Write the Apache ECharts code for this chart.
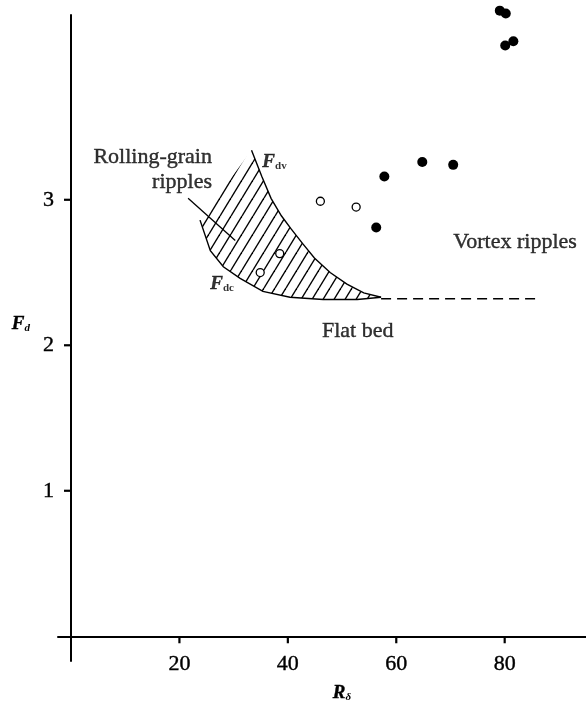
<!DOCTYPE html>
<html>
<head>
<meta charset="utf-8">
<script src="https://cdn.jsdelivr.net/npm/echarts@6/dist/echarts.min.js"></script>
<style>
  html, body { margin: 0; padding: 0; background: #fff; }
  #chart { width: 586px; height: 707px; }
</style>
</head>
<body>
<div id="chart"></div>
<script>
// Measured points: R_delta (x) against F_d (y)
const vortexPoints = [
  [79.1, 4.30], [80.2, 4.28], [80.1, 4.06], [81.6, 4.09],
  [64.8, 3.26], [70.5, 3.24], [57.8, 3.16], [56.3, 2.81]
];
const rollingPoints = [
  [46.0, 2.99], [52.6, 2.95], [38.5, 2.63], [34.9, 2.50]
];

// Boundaries of the rolling-grain ripple band
const fdvCurve = [
  [33.3, 3.34], [35.2, 3.16], [36.9, 3.01], [38.8, 2.89], [40.6, 2.80],
  [42.7, 2.70], [44.9, 2.60], [47.8, 2.50], [50.9, 2.42], [54.0, 2.36],
  [57.2, 2.33]
];
const fdcCurve = [
  [23.8, 2.86], [25.7, 2.65], [28.1, 2.54], [31.2, 2.46], [35.4, 2.37],
  [40.4, 2.33], [46.5, 2.315], [52.8, 2.315], [57.2, 2.33]
];

// Flat-bed threshold beyond the band, and the pointer to the band label
const flatBedLine = [[57.2, 2.32], [85.7, 2.32]];
const pointerLine = [[21.6, 3.01], [30.3, 2.72]];

const xTicks = [20, 40, 60, 80];
const yTicks = [1, 2, 3];

const ink = '#000';
const serif = '"Liberation Serif", "DejaVu Serif", serif';

// Diagonal hatching tile used to fill the band
function hatchTile(w, h, lw) {
  const c = document.createElement('canvas');
  c.width = w; c.height = h;
  const g = c.getContext('2d');
  g.strokeStyle = ink;
  g.lineWidth = lw;
  for (let k = -1; k <= 1; k++) {
    g.beginPath();
    g.moveTo(k * w, h);
    g.lineTo(k * w + w, 0);
    g.stroke();
  }
  return c;
}
const hatch = hatchTile(11, 18, 1.4);

// slight stroke in the text colour gives the print a heavier look
const heavy = { textBorderColor: ink, textBorderWidth: 0.4 };

const subRich = {
  F: Object.assign({ fontFamily: serif, fontStyle: 'italic', fontWeight: 'bold', fontSize: 19, color: ink, lineHeight: 22, verticalAlign: 'bottom' }, heavy),
  s: { fontFamily: serif, fontStyle: 'italic', fontWeight: 'bold', fontSize: 11, color: ink, lineHeight: 8, verticalAlign: 'bottom' },
  u: { fontFamily: serif, fontWeight: 'bold', fontSize: 11, color: ink, lineHeight: 8, verticalAlign: 'bottom' },
  t: Object.assign({ fontFamily: serif, fontSize: 22, color: ink, lineHeight: 25 }, heavy)
};

const chart = echarts.init(document.getElementById('chart'), null, { renderer: 'canvas' });

chart.setOption({
  animation: false,
  backgroundColor: '#fff',
  grid: { left: 58, right: 0, top: 15, bottom: 46, containLabel: false, outerBoundsMode: 'none' },
  xAxis: {
    type: 'value',
    min: -2.4,
    max: 95,
    name: '{F|R}{s|δ}',
    nameLocation: 'middle',
    nameGap: 20,
    nameTextStyle: { rich: subRich, padding: [0, 0, 0, 40] },
    axisLine: { onZero: true, lineStyle: { color: ink, width: 2 } },
    axisTick: { show: false },
    axisLabel: Object.assign({ customValues: xTicks, margin: 14, verticalAlign: 'bottom', lineHeight: 22, fontFamily: serif, fontSize: 22, color: ink }, heavy),
    splitLine: { show: false }
  },
  yAxis: {
    type: 'value',
    min: -0.17,
    max: 4.27,
    name: '{F|F}{s|d}',
    nameLocation: 'middle',
    nameRotate: 0,
    nameGap: 28,
    nameTextStyle: { rich: subRich, padding: [0, 0, 30, 0] },
    axisLine: { onZero: true, lineStyle: { color: ink, width: 2 } },
    axisTick: { show: false },
    axisLabel: Object.assign({ customValues: yTicks, margin: 15, align: 'left', fontFamily: serif, fontSize: 22, color: ink }, heavy),
    splitLine: { show: false }
  },
  series: [
    {
      name: 'band',
      type: 'custom',
      silent: true,
      data: [[0, 0]],
      encode: { x: 0, y: 1 },
      renderItem: function (params, api) {
        const up = fdvCurve.map(p => api.coord(p));
        const lo = fdcCurve.map(p => api.coord(p));
        const poly = up.concat(lo.slice().reverse());
        return {
          type: 'group',
          children: [
            { type: 'polygon', shape: { points: poly }, style: { fill: { image: hatch, repeat: 'repeat' }, stroke: null } },
            { type: 'polyline', shape: { points: up }, style: { stroke: ink, lineWidth: 1.4, fill: null } },
            { type: 'polyline', shape: { points: lo }, style: { stroke: ink, lineWidth: 1.4, fill: null } }
          ]
        };
      }
    },
    {
      name: 'flat bed',
      type: 'line',
      data: flatBedLine,
      symbol: 'none',
      silent: true,
      lineStyle: { color: ink, width: 1.6, type: [10, 6] }
    },
    {
      name: 'pointer',
      type: 'line',
      data: pointerLine,
      symbol: 'none',
      silent: true,
      lineStyle: { color: ink, width: 1.3 }
    },
    {
      name: 'vortex',
      type: 'scatter',
      data: vortexPoints,
      clip: false,
      symbol: 'circle',
      symbolSize: 10,
      itemStyle: { color: ink, opacity: 1 }
    },
    {
      name: 'rolling',
      type: 'scatter',
      data: rollingPoints,
      clip: false,
      symbol: 'circle',
      symbolSize: 8,
      itemStyle: { color: '#fff', borderColor: ink, borderWidth: 1.3, opacity: 1 }
    },
    {
      name: 'annotations',
      type: 'scatter',
      symbolSize: 0,
      silent: true,
      clip: false,
      label: { show: true, rich: subRich, formatter: p => p.data.text },
      data: [
        { value: [26.0, 3.21], text: '{t|Rolling-grain}\n{t|ripples}', label: { position: 'left', distance: 0, align: 'right' } },
        { value: [70.5, 2.71], text: '{t|Vortex ripples}', label: { position: 'right', distance: 0 } },
        { value: [46.3, 2.10], text: '{t|Flat bed}', label: { position: 'right', distance: 0 } },
        { value: [35.3, 3.27], text: '{F|F}{u|dv}', label: { position: 'right', distance: 0 } },
        { value: [25.7, 2.43], text: '{F|F}{u|dc}', label: { position: 'right', distance: 0 } }
      ]
    }
  ]
});

// Tick marks on the axes crossing at the origin, placed through the axis scales
const tickMarks = [];
xTicks.forEach(v => {
  const p = chart.convertToPixel({ gridIndex: 0 }, [v, 0]);
  tickMarks.push({ type: 'rect', z: 100, silent: true, shape: { x: p[0] - 1.1, y: p[1], width: 2.2, height: 7 }, style: { fill: ink } });
});
yTicks.forEach(v => {
  const p = chart.convertToPixel({ gridIndex: 0 }, [0, v]);
  tickMarks.push({ type: 'rect', z: 100, silent: true, shape: { x: p[0] - 7, y: p[1] - 1.1, width: 7, height: 2.2 }, style: { fill: ink } });
});
chart.setOption({ graphic: { elements: tickMarks } });
</script>
</body>
</html>
